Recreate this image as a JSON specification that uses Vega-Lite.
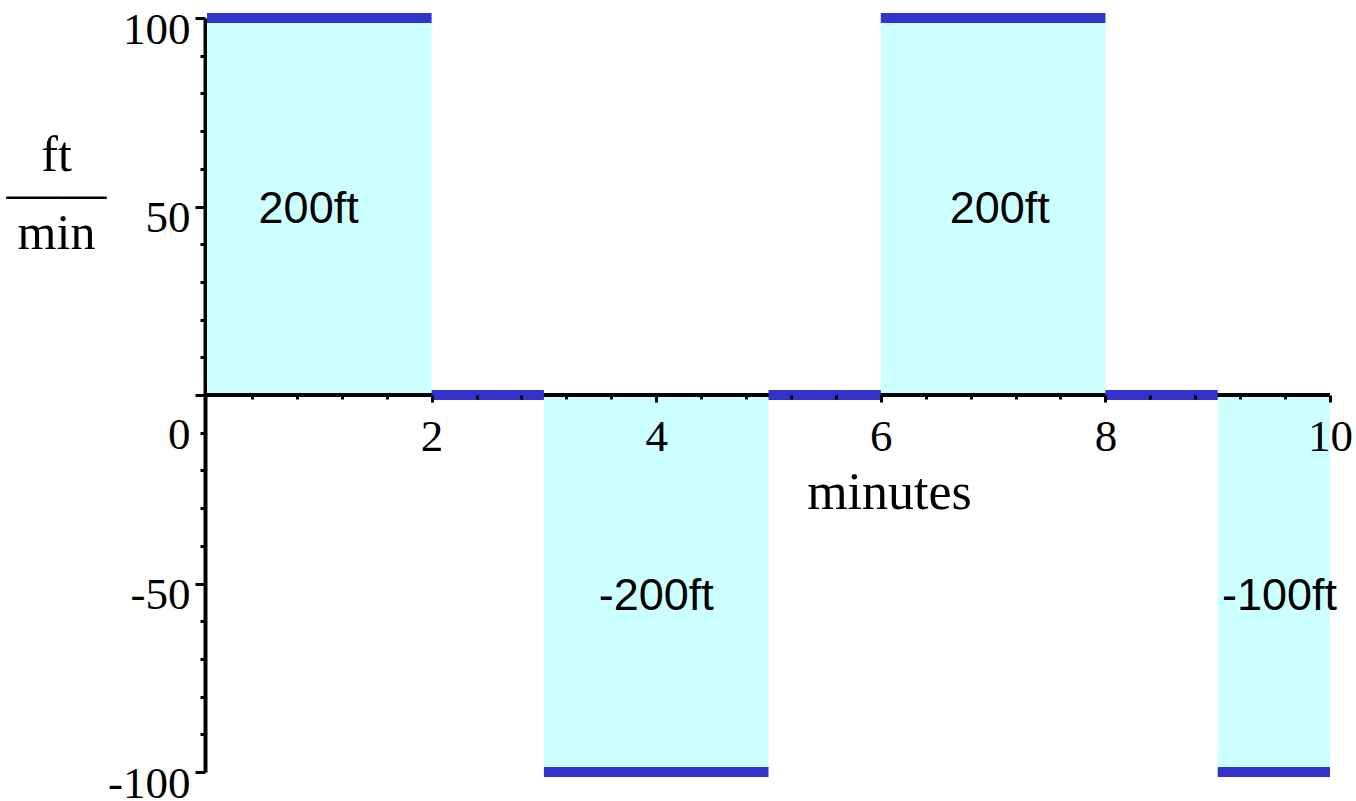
{
  "$schema": "https://vega.github.io/schema/vega-lite/v6.json",
  "width": 1123,
  "height": 754,
  "autosize": "none",
  "padding": {"left": 207, "top": 18, "right": 26, "bottom": 29},
  "background": "white",
  "config": {"view": {"stroke": null}},
  "datasets": {
    "segments": [
      {"x0": 0, "x1": 2, "v": 100},
      {"x0": 2, "x1": 3, "v": 0},
      {"x0": 3, "x1": 5, "v": -100},
      {"x0": 5, "x1": 6, "v": 0},
      {"x0": 6, "x1": 8, "v": 100},
      {"x0": 8, "x1": 9, "v": 0},
      {"x0": 9, "x1": 10, "v": -100}
    ],
    "zeroline": [
      {"x0": 0, "x1": 10, "v": 0}
    ],
    "labels": [
      {"x0": 0.905, "v": 45.6, "label": "200ft"},
      {"x0": 7.06, "v": 45.6, "label": "200ft"},
      {"x0": 4.0, "v": -57, "label": "-200ft"},
      {"x0": 9.55, "v": -57, "label": "-100ft"}
    ]
  },
  "resolve": {"axis": {"x": "independent"}},
  "encoding": {
    "y": {
      "field": "v",
      "type": "quantitative",
      "scale": {"domain": [-100, 100], "nice": false},
      "axis": {
        "orient": "left",
        "offset": 2,
        "grid": false,
        "values": [-100, -90, -80, -70, -60, -50, -40, -30, -20, -10, 0, 10, 20, 30, 40, 50, 60, 70, 80, 90, 100],
        "labelExpr": "datum.value % 50 == 0 ? '' + datum.value : ''",
        "labelOverlap": false,
        "labelFlush": false,
        "labelFont": "Liberation Serif",
        "labelFontSize": 45,
        "labelColor": "black",
        "labelBaseline": "alphabetic",
        "labelPadding": 5,
        "labelOffset": {"condition": {"test": "datum.value == 0", "value": 53}, "value": 25},
        "domainColor": "black",
        "domainWidth": 4,
        "tickColor": "black",
        "tickWidth": 3,
        "tickSize": {"condition": {"test": "datum.value % 50 == 0", "value": 10}, "value": 5},
        "title": ["ft", "——", "min"],
        "titleFont": "Liberation Serif",
        "titleFontSize": 50,
        "titleFontWeight": "normal",
        "titleColor": "black",
        "titleAngle": 0,
        "titleX": -149,
        "titleY": 152,
        "titleAlign": "center",
        "titleBaseline": "alphabetic",
        "titleLineHeight": 39
      }
    }
  },
  "layer": [
    {
      "data": {"name": "segments"},
      "mark": {"type": "rect", "color": "#CCFFFF"},
      "encoding": {
        "x": {
          "field": "x0",
          "type": "quantitative",
          "scale": {"domain": [0, 10], "nice": false, "zero": false},
          "axis": null
        },
        "x2": {"field": "x1"},
        "y2": {"datum": 0}
      }
    },
    {
      "data": {"name": "zeroline"},
      "mark": {"type": "rule", "color": "black", "strokeWidth": 4, "strokeCap": "butt"},
      "encoding": {
        "x": {"field": "x0", "type": "quantitative", "axis": null},
        "x2": {"field": "x1"}
      }
    },
    {
      "data": {"name": "segments"},
      "mark": {"type": "rule", "color": "#3333CC", "strokeWidth": 10, "strokeCap": "butt"},
      "encoding": {
        "x": {"field": "x0", "type": "quantitative", "axis": null},
        "x2": {"field": "x1"}
      }
    },
    {
      "data": {"name": "labels"},
      "mark": {"type": "text", "font": "Liberation Sans", "fontSize": 45, "align": "center", "baseline": "alphabetic", "color": "black"},
      "encoding": {
        "x": {
          "field": "x0",
          "type": "quantitative",
          "axis": {
            "orient": "bottom",
            "offset": -377,
            "zindex": 1,
            "grid": false,
            "domain": false,
            "values": [0.4, 0.8, 1.2, 1.6, 2, 2.4, 2.8, 3.2, 3.6, 4, 4.4, 4.8, 5.2, 5.6, 6, 6.4, 6.8, 7.2, 7.6, 8, 8.4, 8.8, 9.2, 9.6, 10],
            "labelExpr": "datum.value % 2 == 0 ? '' + datum.value : ''",
            "labelOverlap": false,
            "labelFlush": false,
            "labelFont": "Liberation Serif",
            "labelFontSize": 45,
            "labelColor": "black",
            "labelBaseline": "alphabetic",
            "labelPadding": 48,
            "tickColor": "black",
            "tickWidth": 3,
            "tickSize": {"condition": {"test": "datum.value % 2 == 0", "value": 7}, "value": 4},
            "title": "minutes",
            "titleFont": "Liberation Serif",
            "titleFontSize": 52,
            "titleFontWeight": "normal",
            "titleColor": "black",
            "titleX": 682,
            "titleY": 113,
            "titleAlign": "center",
            "titleBaseline": "alphabetic"
          }
        },
        "text": {"field": "label", "type": "nominal"}
      }
    }
  ]
}
